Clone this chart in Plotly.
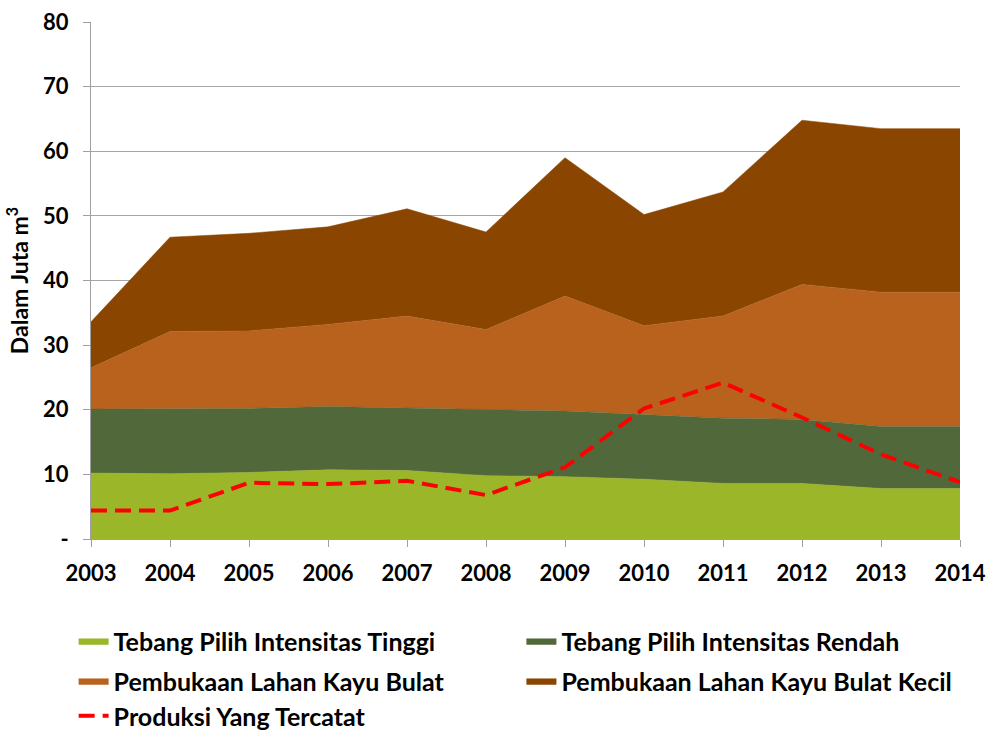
import plotly.graph_objects as go

years = ["2003", "2004", "2005", "2006", "2007", "2008",
         "2009", "2010", "2011", "2012", "2013", "2014"]

tpi_tinggi = [10.2, 10.1, 10.3, 10.7, 10.6, 9.8, 9.65, 9.25, 8.6, 8.6, 7.8, 7.8]
tpi_rendah = [9.9, 10.0, 9.9, 9.8, 9.7, 10.2, 10.15, 10.0, 10.1, 9.9, 9.6, 9.6]
lahan_bulat = [6.4, 12.0, 12.0, 12.7, 14.2, 12.4, 17.8, 13.75, 15.8, 20.9, 20.8, 20.8]
lahan_kecil = [7.1, 14.6, 15.1, 15.1, 16.6, 15.1, 21.4, 17.2, 19.2, 25.4, 25.3, 25.3]
produksi = [4.4, 4.4, 8.7, 8.5, 9.0, 6.8, 11.1, 20.2, 24.2, 18.8, 13.1, 8.8]

ytick_vals = [0, 10, 20, 30, 40, 50, 60, 70, 80]
ytick_text = ["-", "10", "20", "30", "40", "50", "60", "70", "80"]

font_family = "Lato, 'Open Sans', sans-serif"

fig = go.Figure()

# one legend per entry so the two-column grid can be placed like the original
areas = [
    ("Tebang Pilih Intensitas Tinggi", tpi_tinggi, "#9bb629", "legend"),
    ("Tebang Pilih Intensitas Rendah", tpi_rendah, "#51693a", "legend2"),
    ("Pembukaan Lahan Kayu Bulat", lahan_bulat, "#b8621e", "legend3"),
    ("Pembukaan Lahan Kayu Bulat Kecil", lahan_kecil, "#8a4600", "legend4"),
]
for name, vals, col, leg in areas:
    fig.add_trace(go.Scatter(
        x=years, y=vals, name=name, mode="lines",
        stackgroup="one", fillcolor=col,
        line=dict(width=0.5, color=col),
        legend=leg
    ))

fig.add_trace(go.Scatter(
    x=years, y=produksi, name="Produksi Yang Tercatat", mode="lines",
    line=dict(color="#ff0000", width=4, dash="16px,8px"),
    legend="legend5"
))


def legend_cell(xpos, ypos):
    return dict(
        orientation="h",
        xref="paper", x=xpos, xanchor="left",
        yref="container", y=ypos, yanchor="middle",
        font=dict(size=25, family=font_family, color="black", weight="bold"),
        bgcolor="rgba(0,0,0,0)",
    )


col1 = -0.02
col2 = 0.4953
row1 = 1 - 641 / 733
row2 = 1 - 681 / 733
row3 = 1 - 716 / 733

fig.update_layout(
    width=986,
    height=733,
    paper_bgcolor="white",
    plot_bgcolor="white",
    margin=dict(l=91, r=26, t=22, b=194),
    font=dict(family=font_family, size=20, color="black"),
    showlegend=True,
    legend=legend_cell(col1, row1),
    legend2=legend_cell(col2, row1),
    legend3=legend_cell(col1, row2),
    legend4=legend_cell(col2, row2),
    legend5=legend_cell(col1, row3),
    xaxis=dict(
        type="category",
        range=[0, 11],
        showgrid=False,
        showline=True,
        linecolor="#a0a0a0",
        linewidth=1,
        ticks="outside",
        ticklen=7,
        tickcolor="#a0a0a0",
        tickfont=dict(size=22, family=font_family, color="black", weight="bold"),
        ticklabelstandoff=8,
        automargin=False,
    ),
    yaxis=dict(
        range=[0, 80],
        tickvals=ytick_vals,
        ticktext=ytick_text,
        showgrid=True,
        gridcolor="#a6a6a6",
        gridwidth=1,
        showline=True,
        linecolor="#a0a0a0",
        ticks="outside",
        ticklen=7,
        tickcolor="#a0a0a0",
        tickfont=dict(size=22, family=font_family, color="black", weight="bold"),
        ticklabelstandoff=10,
        automargin=False,
        title=dict(text="Dalam Juta m<sup>3</sup>",
                   font=dict(size=23, family=font_family, color="black", weight="bold"),
                   standoff=8),
    ),
)

# drop the browser's default body margin so the chart sits at the page corner
fig.write_html("out.html", config={"displayModeBar": False},
               post_script="document.body.style.margin='0';")
